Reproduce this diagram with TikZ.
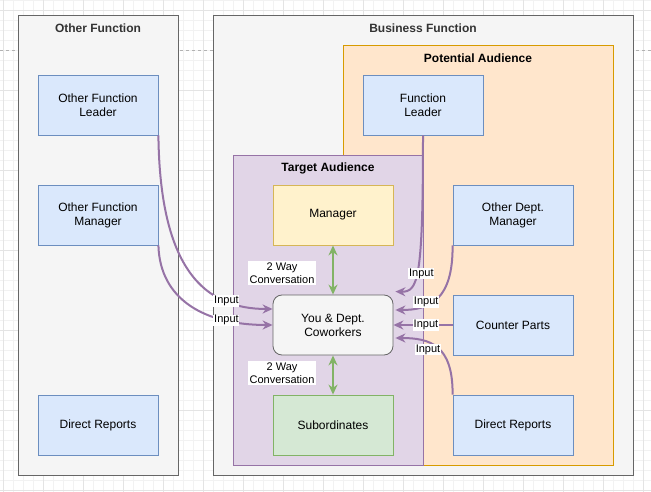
\documentclass[tikz,border=0pt]{standalone}
\usepackage{fontspec}
\setmainfont{Liberation Sans}
\usetikzlibrary{arrows.meta}

\definecolor{gridminor}{HTML}{F2F2F2}
\definecolor{gridmajor}{HTML}{E4E4E4}
\definecolor{greyfill}{HTML}{F5F5F5}
\definecolor{greyline}{HTML}{666666}
\definecolor{bluefill}{HTML}{DAE8FC}
\definecolor{blueline}{HTML}{6C8EBF}
\definecolor{orangefill}{HTML}{FFE6CC}
\definecolor{orangeline}{HTML}{D79B00}
\definecolor{purplefill}{HTML}{E1D5E7}
\definecolor{purpleline}{HTML}{9673A6}
\definecolor{yellowfill}{HTML}{FFF2CC}
\definecolor{yellowline}{HTML}{D6B656}
\definecolor{greenfill}{HTML}{D5E8D4}
\definecolor{greenline}{HTML}{82B366}
\definecolor{titlegrey}{HTML}{333333}

\begin{document}
\begin{tikzpicture}[x=1pt, y=-1pt,
	font=\fontsize{12}{14}\selectfont,
	container/.style={draw=greyline, fill=greyfill, line width=0.9pt},
	box/.style={draw=blueline, fill=bluefill, line width=0.8pt, align=center,
		minimum width=120, minimum height=60, inner sep=0pt},
	heading/.style={font=\fontsize{12}{14}\selectfont\bfseries},
	input/.style={draw=purpleline, line width=2pt, -{Stealth[length=10pt, width=9pt]}},
	talk/.style={draw=greenline, line width=2pt, {Stealth[length=10pt, width=9pt]}-{Stealth[length=10pt, width=9pt]}},
	inlabel/.style={fill=white, inner sep=0.8pt, font=\fontsize{11}{12.5}\selectfont, text=black},
	talklabel/.style={fill=white, inner sep=1.5pt, align=center, font=\fontsize{11}{12.5}\selectfont}]
	\useasboundingbox (0,0) rectangle (651,492);
	\fill[white] (0,0) rectangle (651,492);
	% background grid of the editor
	\foreach \gx in {3,13,...,643} \draw[gridminor, line width=0.8pt] (\gx,0) -- (\gx,492);
	\foreach \gy in {0,10,...,490} \draw[gridminor, line width=0.8pt] (0,\gy) -- (651,\gy);
	\foreach \gx in {3,43,...,643} \draw[gridmajor, line width=0.8pt] (\gx,0) -- (\gx,492);
	\foreach \gy in {10,90,...,490} \draw[gridmajor, line width=0.8pt] (0,\gy) -- (651,\gy);
	\draw[gray!60, dashed, line width=0.8pt] (0,50) -- (651,50);

	% containers
	\node[container, minimum width=160, minimum height=460] (other) at (98,245) {};
	\node[heading, text=titlegrey] (othertitle) at (98,28) {Other Function};
	\node[container, minimum width=420, minimum height=460] (business) at (423,245) {};
	\node[heading, text=titlegrey] (businesstitle) at (423,28) {Business Function};
	\node[draw=orangeline, fill=orangefill, line width=0.8pt, minimum width=270, minimum height=420] (potential) at (478,255) {};
	\node[heading] (potentialtitle) at (478,58) {Potential Audience};
	\node[draw=purpleline, fill=purplefill, line width=0.8pt, minimum width=190, minimum height=310] (target) at (328,310) {};
	\node[heading] (targettitle) at (328,168) {Target Audience};

	% people
	\node[box] (ofleader) at (98,105) {Other Function\\Leader};
	\node[box] (ofmanager) at (98,215) {Other Function\\Manager};
	\node[box] (ofreports) at (98,425) {Direct Reports};
	\node[box] (fleader) at (423,105) {Function\\Leader};
	\node[box] (odmanager) at (513,215) {Other Dept.\\Manager};
	\node[box] (counter) at (513,325) {Counter Parts};
	\node[box] (dreports) at (513,425) {Direct Reports};
	\node[box, draw=yellowline, fill=yellowfill] (manager) at (333,215) {Manager};
	\node[box, draw=greyline, fill=greyfill, rounded corners=9pt] (you) at (333,325) {You \& Dept.\\Coworkers};
	\node[box, draw=greenline, fill=greenfill] (subs) at (333,425) {Subordinates};

	% two way talks
	\draw[talk] (manager.south) -- (you.north);
	\node[talklabel] (talkup) at (282,273) {2 Way\\Conversation};
	\draw[talk] (you.south) -- (subs.north);
	\node[talklabel] (talkdown) at (282,373) {2 Way\\Conversation};

	% inputs
	\path[input] (ofleader.south east) .. controls (160,270) and (205,309) .. ([yshift=16pt]you.west)
		node[inlabel, pos=0.75] {Input};
	\path[input] (ofmanager.south east) .. controls (160,300) and (205,325) .. ([yshift=0pt]you.west)
		node[inlabel, pos=0.75] {Input};
	\path[input] (fleader.south) .. controls (423,280) and (418,292) .. ([shift={(2pt,3pt)}]you.north east)
		node[inlabel, pos=0.55, xshift=5pt] {Input};
	\path[input] (odmanager.south west) .. controls (453,300) and (430,310) .. ([shift={(2pt,15pt)}]you.east)
		node[inlabel, pos=0.66, yshift=3pt] {Input};
	\path[input] (counter.west) -- (you.east)
		node[inlabel, pos=0.45] {Input};
	\path[input] (dreports.north west) .. controls (453,345) and (430,338) .. ([shift={(2pt,-13pt)}]you.east)
		node[inlabel, pos=0.55, xshift=-6pt, yshift=-4pt] {Input};
\end{tikzpicture}
\end{document}
